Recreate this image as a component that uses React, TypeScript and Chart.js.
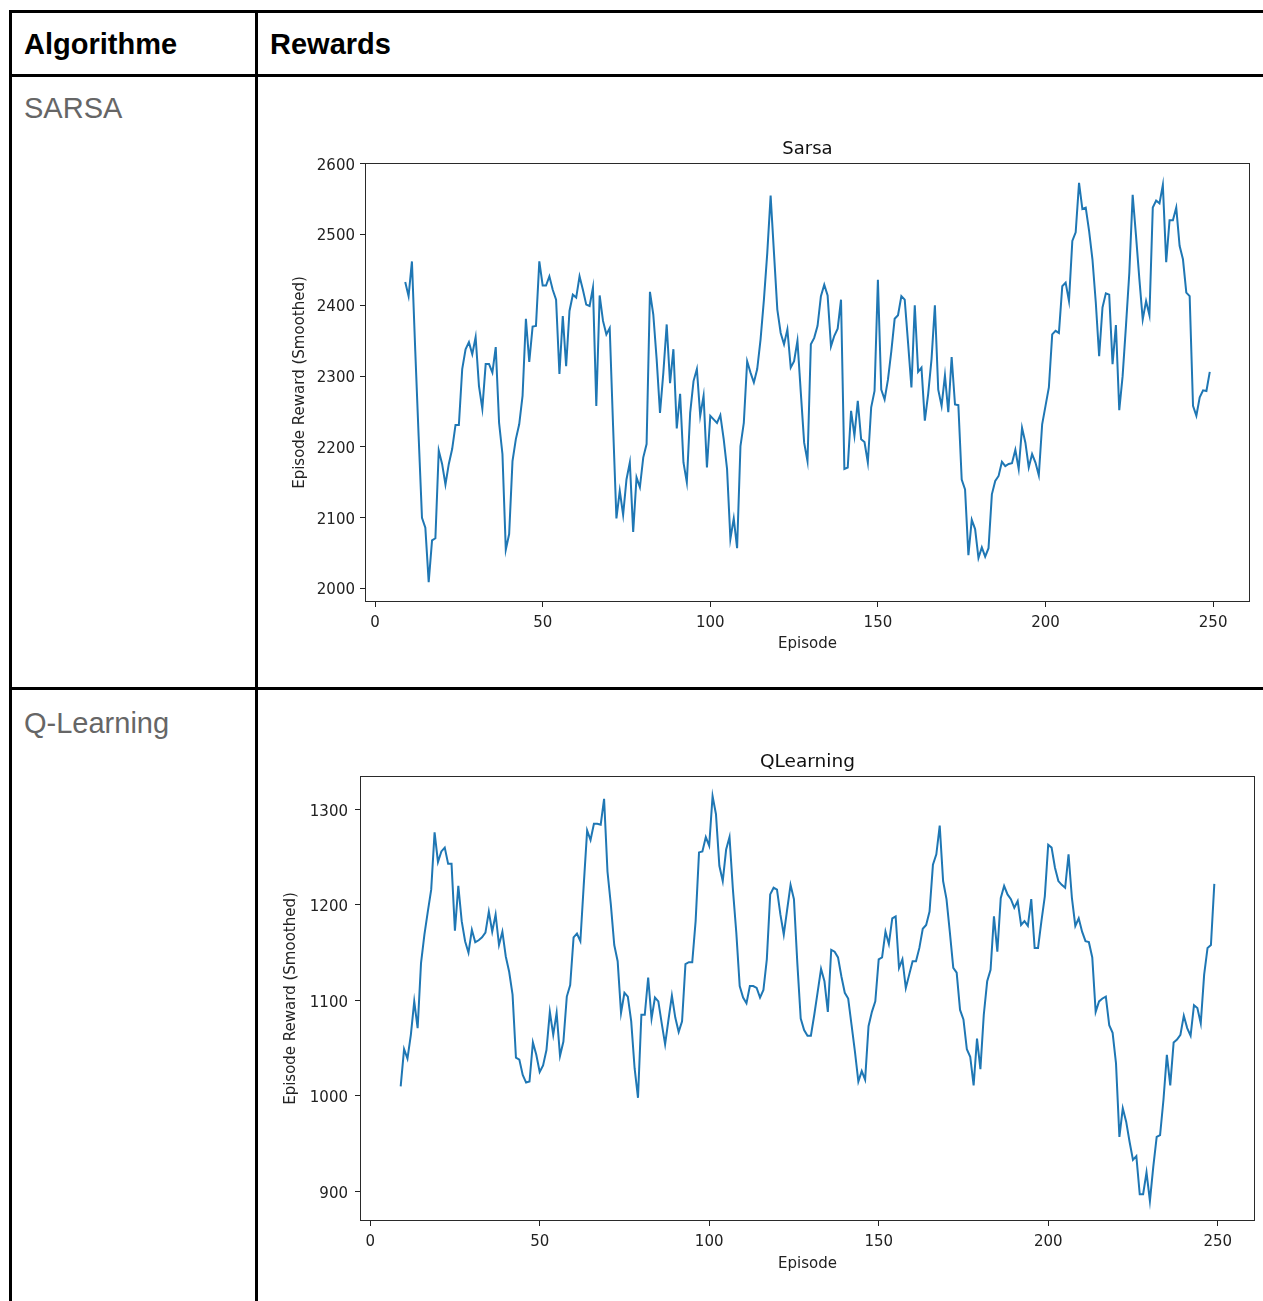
import React, { useEffect, useRef } from "react";
import { Chart, registerables } from "chart.js";

Chart.register(...registerables);

// ---------- data ----------
const firstEpisode = 9;

// SARSA smoothed episode reward, episodes 9..249
const sarsaRewards = [
  2433, 2413, 2462, 2335, 2215, 2100, 2086, 2009, 2068, 2071,
  2195, 2176, 2147, 2176, 2197, 2231, 2231, 2310, 2338, 2348,
  2331, 2355, 2286, 2254, 2317, 2317, 2305, 2341, 2234, 2190,
  2055, 2077, 2180, 2211, 2232, 2272, 2381, 2320, 2370, 2371,
  2462, 2428, 2428, 2441, 2422, 2408, 2303, 2385, 2314, 2392,
  2415, 2411, 2441, 2422, 2401, 2399, 2425, 2258, 2414, 2378,
  2359, 2368, 2230, 2099, 2138, 2104, 2154, 2178, 2080, 2157,
  2143, 2185, 2204, 2419, 2387, 2324, 2248, 2305, 2373, 2290,
  2338, 2226, 2275, 2178, 2150, 2248, 2293, 2310, 2244, 2272,
  2171, 2244, 2239, 2234, 2245, 2211, 2169, 2070, 2099, 2057,
  2201, 2234, 2321, 2305, 2291, 2310, 2352, 2408, 2474, 2555,
  2474, 2394, 2361, 2345, 2366, 2312, 2321, 2350, 2277, 2206,
  2180, 2345, 2354, 2371, 2413, 2429, 2414, 2342, 2357, 2367,
  2408, 2169, 2171, 2251, 2216, 2265, 2211, 2207, 2178, 2256,
  2279, 2436, 2281, 2267, 2295, 2335, 2381, 2386, 2413, 2408,
  2347, 2284, 2400, 2306, 2312, 2237, 2275, 2324, 2400, 2281,
  2258, 2301, 2249, 2327, 2260, 2259, 2154, 2140, 2047, 2097,
  2084, 2043, 2058, 2045, 2057, 2133, 2152, 2159, 2179, 2173,
  2176, 2177, 2196, 2169, 2227, 2206, 2171, 2190, 2178, 2160,
  2232, 2258, 2284, 2359, 2364, 2361, 2427, 2432, 2406, 2491,
  2503, 2573, 2536, 2538, 2505, 2465, 2404, 2328, 2397, 2417,
  2415, 2317, 2372, 2252, 2300, 2371, 2446, 2556, 2498, 2437,
  2380, 2406, 2386, 2538, 2548, 2544, 2570, 2461, 2520, 2520,
  2538, 2484, 2465, 2418, 2413, 2258, 2244, 2270, 2280, 2279,
  2306,
];

// Q-Learning smoothed episode reward, episodes 9..249
const qLearningRewards = [
  1010, 1049, 1039, 1064, 1099, 1071, 1139, 1169, 1193, 1216,
  1276, 1245, 1256, 1260, 1243, 1243, 1173, 1220, 1183, 1162,
  1150, 1174, 1161, 1163, 1166, 1171, 1193, 1172, 1190, 1158,
  1172, 1146, 1130, 1106, 1040, 1038, 1022, 1014, 1015, 1056,
  1043, 1025, 1032, 1048, 1088, 1064, 1087, 1042, 1057, 1104,
  1116, 1166, 1170, 1162, 1221, 1278, 1268, 1285, 1285, 1284,
  1311, 1235, 1200, 1158, 1141, 1087, 1108, 1104, 1078, 1029,
  998, 1085, 1085, 1124, 1081, 1103, 1099, 1076, 1054, 1080,
  1105, 1082, 1067, 1078, 1138, 1140, 1140, 1183, 1255, 1256,
  1271, 1262, 1314, 1295, 1241, 1225, 1258, 1271, 1216, 1171,
  1115, 1103, 1097, 1115, 1115, 1113, 1103, 1111, 1143, 1211,
  1218, 1216, 1190, 1169, 1195, 1221, 1206, 1139, 1081, 1069,
  1063, 1063, 1085, 1109, 1133, 1120, 1088, 1153, 1151, 1145,
  1125, 1108, 1102, 1074, 1046, 1015, 1026, 1017, 1073, 1088,
  1099, 1143, 1145, 1172, 1159, 1186, 1188, 1134, 1143, 1113,
  1127, 1141, 1141, 1155, 1175, 1179, 1193, 1242, 1253, 1283,
  1225, 1206, 1171, 1134, 1129, 1090, 1080, 1049, 1041, 1011,
  1060, 1028, 1085, 1120, 1132, 1188, 1151, 1207, 1220, 1211,
  1206, 1197, 1204, 1179, 1183, 1178, 1206, 1155, 1155, 1183,
  1209, 1263, 1260, 1239, 1225, 1221, 1218, 1253, 1207, 1178,
  1186, 1172, 1162, 1161, 1145, 1088, 1099, 1102, 1104, 1074,
  1066, 1034, 957, 987, 973, 952, 933, 937, 897, 897,
  920, 890, 926, 957, 959, 996, 1043, 1011, 1056, 1059,
  1064, 1084, 1071, 1063, 1095, 1092, 1076, 1127, 1155, 1158,
  1222,
];

const episodeTicks = [0, 50, 100, 150, 200, 250];
const sarsaTicks = [2000, 2100, 2200, 2300, 2400, 2500, 2600];
const qLearningTicks = [900, 1000, 1100, 1200, 1300];

// ---------- chart ----------
const framePlugin = {
  id: "axesFrame",
  afterDraw(chart: any) {
    const { ctx, chartArea: a } = chart;
    ctx.save();
    ctx.strokeStyle = "#2a2a2a";
    ctx.lineWidth = 1;
    ctx.strokeRect(
      Math.round(a.left) + 0.5,
      Math.round(a.top) + 0.5,
      Math.round(a.right) - Math.round(a.left) - 1,
      Math.round(a.bottom) - Math.round(a.top) - 1
    );
    ctx.restore();
  },
};

type PanelProps = {
  title: string;
  values: number[];
  yTicks: number[];
  yMin: number;
  yMax: number;
  left: number;
  top: number;
  width: number;
  height: number;
  yAxisWidth: number;
  xAxisHeight: number;
  padRight: number;
  titleSize: number;
  titlePadTop: number;
  titlePadBottom: number;
  yTitlePad: number;
  yTickPad: number;
  yLabelOffset: number;
  xTitlePad: number;
};

function RewardChart(p: PanelProps) {
  const ref = useRef<HTMLCanvasElement | null>(null);

  useEffect(() => {
    if (!ref.current) return;
    const font = { family: "'DejaVu Sans'", size: 15, lineHeight: 1.2 };
    const chart = new Chart(ref.current, {
      type: "line",
      data: {
        datasets: [
          {
            data: p.values.map((v, i) => ({ x: firstEpisode + i, y: v })),
            borderColor: "#1f77b4",
            borderWidth: 2,
            pointRadius: 0,
            tension: 0,
            fill: false,
          },
        ],
      },
      options: {
        responsive: false,
        maintainAspectRatio: false,
        animation: false,
        layout: { padding: { left: 0, right: p.padRight, top: 0, bottom: 0 } },
        plugins: {
          legend: { display: false },
          tooltip: { enabled: false },
          title: {
            display: true,
            text: p.title,
            fullSize: false,
            color: "#111",
            font: { family: "'DejaVu Sans'", size: p.titleSize, weight: "normal", lineHeight: 1.2 },
            padding: { top: p.titlePadTop, bottom: p.titlePadBottom },
          },
        },
        scales: {
          x: {
            type: "linear",
            min: -3,
            max: 261,
            afterBuildTicks: (axis: any) => {
              axis.ticks = episodeTicks.map((v) => ({ value: v }));
            },
            afterFit: (s: any) => {
              s.height = p.xAxisHeight;
            },
            grid: { drawOnChartArea: false, drawTicks: true, tickLength: 5, tickColor: "#222", tickWidth: 1 },
            border: { display: false },
            ticks: {
              color: "#222",
              font,
              padding: 7,
              maxRotation: 0,
              autoSkip: false,
              callback: (v: any) => String(v),
            },
            title: { display: true, text: "Episode", color: "#222", font, padding: { top: 0, bottom: p.xTitlePad } },
          },
          y: {
            type: "linear",
            min: p.yMin,
            max: p.yMax,
            afterBuildTicks: (axis: any) => {
              axis.ticks = p.yTicks.map((v) => ({ value: v }));
            },
            afterFit: (s: any) => {
              s.width = p.yAxisWidth;
            },
            grid: { drawOnChartArea: false, drawTicks: true, tickLength: 5, tickColor: "#222", tickWidth: 1 },
            border: { display: false },
            ticks: {
              color: "#222",
              font,
              padding: p.yTickPad,
              labelOffset: p.yLabelOffset,
              autoSkip: false,
              callback: (v: any) => String(v),
            },
            title: {
              display: true,
              text: "Episode Reward (Smoothed)",
              color: "#222",
              font,
              padding: { top: p.yTitlePad, bottom: 0 },
            },
          },
        },
      },
      plugins: [framePlugin],
    } as any);
    return () => chart.destroy();
  }, []);

  return (
    <canvas
      ref={ref}
      width={p.width}
      height={p.height}
      style={{ position: "absolute", left: p.left, top: p.top, width: p.width, height: p.height }}
    />
  );
}

// ---------- page ----------
const line = (left: number, top: number, width: number, height: number) => (
  <div style={{ position: "absolute", left, top, width, height, background: "#000" }} />
);

const cellText = (text: string, left: number, baseline: number, bold: boolean) => (
  <div
    style={{
      position: "absolute",
      left,
      top: baseline - 24.5,
      fontFamily: "'Liberation Sans', Arial, sans-serif",
      fontSize: 29,
      lineHeight: "29px",
      fontWeight: bold ? 700 : 400,
      color: bold ? "#000" : "#666",
      whiteSpace: "nowrap",
    }}
  >
    {text}
  </div>
);

export default function App() {
  return (
    <div
      style={{
        position: "absolute",
        left: 0,
        top: 0,
        width: 1263,
        height: 1301,
        overflow: "hidden",
        background: "#fff",
      }}
    >
      {line(9, 10, 1254, 3)}
      {line(9, 74, 1254, 3)}
      {line(9, 687, 1254, 3)}
      {line(9, 10, 3, 1291)}
      {line(255, 10, 3, 1291)}

      {cellText("Algorithme", 24, 54, true)}
      {cellText("Rewards", 270, 54, true)}
      {cellText("SARSA", 24, 118, false)}
      {cellText("Q-Learning", 24, 733, false)}

      <RewardChart
        title="Sarsa"
        values={sarsaRewards}
        yTicks={sarsaTicks}
        yMin={1981}
        yMax={2601}
        left={260}
        top={125}
        width={1000}
        height={545}
        yAxisWidth={105}
        xAxisHeight={68}
        padRight={10}
        titleSize={18}
        titlePadTop={13.2}
        titlePadBottom={3.2}
        yTitlePad={31}
        yTickPad={5}
        yLabelOffset={2}
        xTitlePad={17}
      />
      <RewardChart
        title="QLearning"
        values={qLearningRewards}
        yTicks={qLearningTicks}
        yMin={869}
        yMax={1335}
        left={260}
        top={735}
        width={1003}
        height={550}
        yAxisWidth={100}
        xAxisHeight={64}
        padRight={8}
        titleSize={18.5}
        titlePadTop={15.9}
        titlePadBottom={2.9}
        yTitlePad={22}
        yTickPad={7}
        yLabelOffset={2.5}
        xTitlePad={12}
      />
    </div>
  );
}
